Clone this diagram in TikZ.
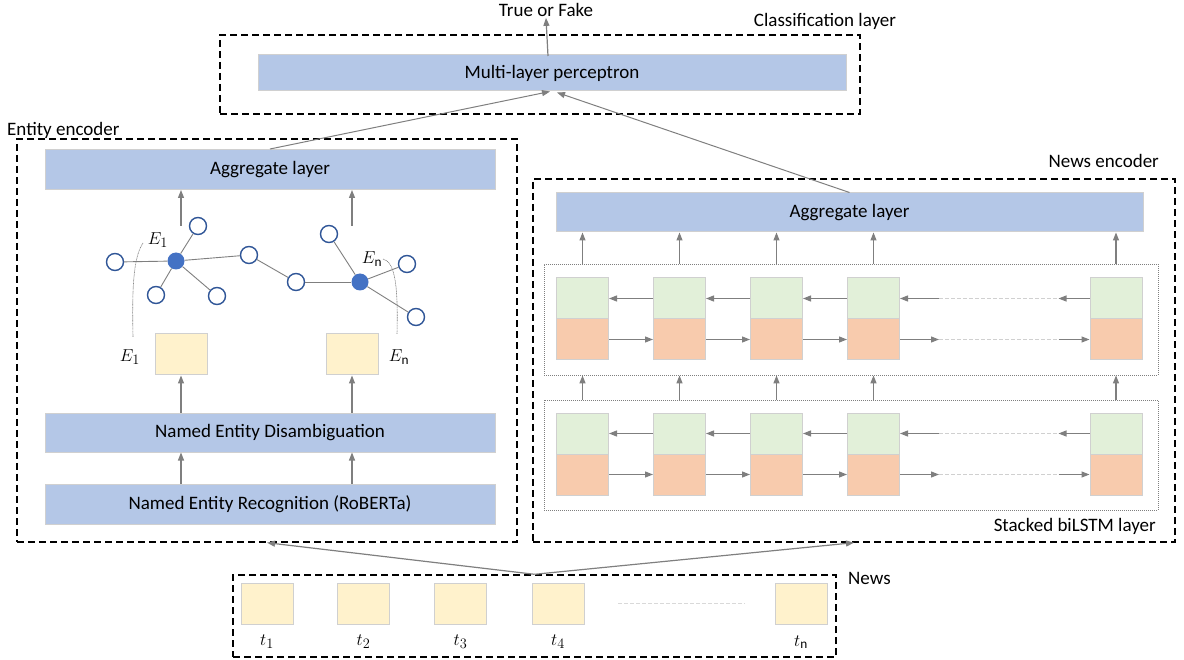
\documentclass[tikz,border=0pt]{standalone}
\usepackage{fontspec}
\setmainfont{Carlito}
\usepackage{amsmath}
\usetikzlibrary{arrows.meta,positioning,calc}
\definecolor{layerblue}{HTML}{B4C7E7}
\definecolor{boxgray}{HTML}{D0D0D0}
\definecolor{embyellow}{HTML}{FFF2CC}
\definecolor{bwdgreen}{HTML}{E2F0D9}
\definecolor{fwdorange}{HTML}{F8CBAD}
\definecolor{nodeblue}{HTML}{4472C4}
\definecolor{ringblue}{HTML}{2F5597}
\definecolor{flowgray}{HTML}{7F7F7F}
\tikzset{
  layerbox/.style = {draw=boxgray, fill=layerblue, line width=1pt, inner sep=0pt,
                     minimum width=450, minimum height=40, align=center},
  embbox/.style   = {draw=boxgray, fill=embyellow, line width=1pt, inner sep=0pt,
                     minimum width=52, minimum height=41},
  bwdcell/.style  = {draw=boxgray, fill=bwdgreen, line width=1pt, inner sep=0pt,
                     minimum width=52, minimum height=41},
  fwdcell/.style  = {draw=boxgray, fill=fwdorange, line width=1pt, inner sep=0pt,
                     minimum width=52, minimum height=41},
  groupbox/.style = {draw=black, line width=1.4pt, dash pattern=on 7pt off 4pt,
                     inner sep=0pt},
  lstmbox/.style  = {draw=flowgray, line width=0.8pt, dash pattern=on 1pt off 1pt,
                     inner sep=0pt},
  ent/.style      = {circle, draw=ringblue, line width=1.4pt, fill=white,
                     inner sep=0pt, minimum size=17},
  hub/.style      = {circle, fill=nodeblue, inner sep=0pt, minimum size=17},
  flow/.style     = {-{Triangle[length=8pt,width=6pt]}, draw=flowgray, line width=1.2pt},
  edge/.style     = {draw=flowgray, line width=0.9pt},
  gap/.style      = {draw=boxgray, line width=1pt, dash pattern=on 4pt off 2pt},
  lbl/.style      = {inner sep=1pt},
}
\begin{document}
\begin{tikzpicture}[x=1pt,y=-1pt,font=\fontsize{19}{22}\selectfont]
\useasboundingbox (0,0) rectangle (1184,660);
% group frames
\node[groupbox, minimum width=640, minimum height=79] (clsbox) at (540,74.5) {};
\node[groupbox, minimum width=500, minimum height=403] (entbox) at (267,340.5) {};
\node[groupbox, minimum width=642, minimum height=363] (newsenc) at (854,360.5) {};
\node[groupbox, minimum width=603, minimum height=82] (newsbox) at (534.5,616) {};
\node[lbl] (clslbl) at (825,21) {Classification layer};
\node[lbl, anchor=west] (entlbl) at (6,130) {Entity encoder};
\node[lbl, anchor=east] (enclbl) at (1160,161) {News encoder};
\node[lbl, anchor=west] (newslbl) at (847,578) {News};
\node[lbl, anchor=east] (bilbl) at (1157,526) {Stacked biLSTM layer};
% classification
\node[layerbox, minimum width=588, minimum height=36] (mlp) at (552,73) {Multi-layer perceptron};
\node[lbl] (out) at (546,10) {True or Fake};
\draw[flow] (548,56) -- (out.south);
% entity encoder
\node[layerbox] (aggL) at (270,169.5) {Aggregate layer};
\node[layerbox, minimum height=39] (ned) at (270,432.5) {Named Entity Disambiguation};
\node[layerbox] (ner) at (270,504) {Named Entity Recognition (RoBERTa)};
\node[embbox] (embA) at (181,354.5) {};
\node[embbox] (embB) at (352,354.5) {};
\foreach \x in {181,352}{
  \draw[flow] (\x,0 |- ner.north) -- (\x,0 |- ned.south);
  \draw[flow] (\x,0 |- ned.north) -- (\x,0 |- embA.south);
  \draw[flow] (\x,226) -- (\x,0 |- aggL.south);
}
% knowledge graph
\node[hub] (h1) at (176,261) {};
\node[hub] (h2) at (360,282) {};
\node[ent] (a1) at (115,262) {};
\node[ent] (a2) at (198,226) {};
\node[ent] (a3) at (156,295) {};
\node[ent] (a4) at (217,296) {};
\node[ent] (a5) at (249,255) {};
\node[ent] (b1) at (296,282) {};
\node[ent] (b2) at (329,234) {};
\node[ent] (b3) at (407,264) {};
\node[ent] (b4) at (416,317) {};
\foreach \n in {a1,a2,a3,a4,a5} \draw[edge] (h1) -- (\n);
\foreach \n in {b1,b2,b3,b4} \draw[edge] (h2) -- (\n);
\draw[edge] (a5) -- (b1);
\node[lbl] (e1top) at (158,240) {$E_1$};
\node[lbl] (entop) at (372,259) {$E_{\mathrm{n}}$};
\node[lbl] (e1bot) at (130,357) {$E_1$};
\node[lbl] (enbot) at (399,357) {$E_{\mathrm{n}}$};
\draw[edge, line width=0.6pt, dash pattern=on 1pt off 0.6pt] (143,243) .. controls (133,258) and (132,290) .. (133,337);
\draw[edge, line width=0.6pt, dash pattern=on 1pt off 0.6pt] (383,259) .. controls (396,262) and (398,290) .. (397,334);
% news encoder
\node[layerbox, minimum width=587, minimum height=39] (aggR) at (849.5,212.5) {Aggregate layer};
\node[lstmbox, minimum width=614, minimum height=111] (upper) at (851,319.5) {};
\node[lstmbox, minimum width=614, minimum height=110] (lower) at (851,455) {};
\foreach \x [count=\i] in {582.5,679.5,776.5,873.5,1116}{
  \node[bwdcell] (ub\i) at (\x,298.5) {};
  \node[fwdcell] (uf\i) at (\x,339.5) {};
  \node[bwdcell] (lb\i) at (\x,433.5) {};
  \node[fwdcell] (lf\i) at (\x,474.5) {};
  \draw[flow] (\x,0 |- upper.north) -- (\x,0 |- aggR.south);
  \draw[flow] (\x,0 |- lower.north) -- (\x,0 |- upper.south);
}
\foreach \r in {u,l}{
  \foreach \i/\j in {1/2,2/3,3/4}{
    \draw[flow] (\r b\j.west) -- (\r b\i.east);
    \draw[flow] (\r f\i.east) -- (\r f\j.west);
  }
  \coordinate (\r bm) at ($(\r b4.east)+(39,0)$);
  \coordinate (\r bn) at ($(\r b5.west)+(-31,0)$);
  \coordinate (\r fm) at ($(\r f4.east)+(39,0)$);
  \coordinate (\r fn) at ($(\r f5.west)+(-31,0)$);
  \draw[flow] (\r bm) -- (\r b4.east);
  \draw[gap] (\r bm) -- (\r bn);
  \draw[flow] (\r b5.west) -- (\r bn);
  \draw[flow] (\r f4.east) -- (\r fm);
  \draw[gap] (\r fm) -- (\r fn);
  \draw[flow] (\r fn) -- (\r f5.west);
}
% news tokens
\foreach \x/\t [count=\i] in {267/1,363.5/2,460.5/3,558/4,801/{\mathrm{n}}}{
  \node[embbox] (tok\i) at (\x,603.5) {};
  \node[lbl] (tl\i) at (\x,642) {$t_{\t}$};
}
\coordinate (gapA) at (618,603);
\coordinate (gapB) at (745,603);
\draw[gap, draw=boxgray!80] (gapA) -- (gapB);
% connections between parts
\draw[flow] (newsbox.north) -- (entbox.south);
\draw[flow] (newsbox.north) -- (newsenc.south);
\draw[flow, line width=1pt] (aggL.north) -- ($(mlp.south)+(-2,0)$);
\draw[flow, line width=1pt] (aggR.north) -- ($(mlp.south)+(5,1)$);
\end{tikzpicture}
\end{document}
